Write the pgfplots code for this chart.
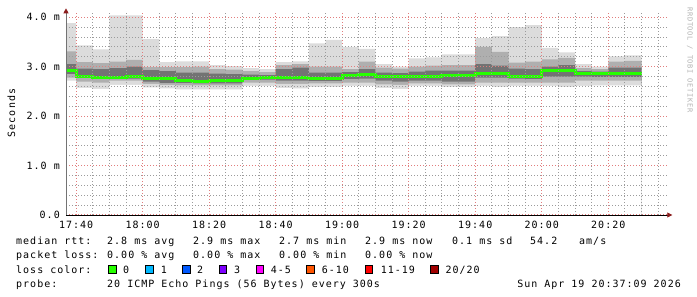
\documentclass[border=0pt]{standalone}
\usepackage{fontspec}
\newfontfamily\rrd{DejaVu Sans Mono}[LetterSpace=10]
\usepackage{pgfplots}
\usepackage{pgfplotstable}
\pgfplotsset{compat=1.18}
\usetikzlibrary{arrows.meta}
\newcommand\rrdfont{\rrd\fontsize{10bp}{12bp}\selectfont}
\newcommand\rrdtiny{\rrd\fontsize{7bp}{8bp}\selectfont}
\definecolor{smokeA}{RGB}{220,220,220}
\definecolor{smokeB}{RGB}{175,175,175}
\definecolor{smokeC}{RGB}{115,115,115}
\definecolor{medgreen}{RGB}{38,255,0}
\definecolor{majgrid}{RGB}{225,125,125}
\definecolor{mingrid}{RGB}{155,155,155}
\definecolor{arrowred}{RGB}{140,30,30}
\definecolor{lc0}{HTML}{26FF00}
\definecolor{lc1}{HTML}{00B8FF}
\definecolor{lc2}{HTML}{0059FF}
\definecolor{lc3}{HTML}{7E00FF}
\definecolor{lc4}{HTML}{FF00FF}
\definecolor{lc5}{HTML}{FF5500}
\definecolor{lc6}{HTML}{FF0000}
\definecolor{lc7}{HTML}{A10000}

\pgfplotstableread{
x     max  p90  p75  med  p25  p10  min
36.95 3.88 3.31 3.05 2.92 2.85 2.78 2.72
40    3.43 3.09 2.96 2.81 2.77 2.70 2.57
45    3.35 3.07 2.95 2.79 2.75 2.68 2.55
50    4.04 3.10 2.97 2.79 2.76 2.72 2.63
55    4.04 3.14 3.00 2.80 2.76 2.72 2.63
60    3.56 2.99 2.93 2.77 2.70 2.65 2.58
65    3.09 2.99 2.91 2.77 2.67 2.63 2.56
70    3.11 2.99 2.88 2.72 2.67 2.62 2.54
75    3.11 3.00 2.88 2.71 2.66 2.62 2.54
80    3.03 2.95 2.86 2.72 2.66 2.62 2.54
85    3.01 2.94 2.85 2.72 2.66 2.62 2.54
90    2.97 2.91 2.84 2.77 2.73 2.68 2.61
95    2.95 2.89 2.83 2.78 2.74 2.68 2.61
100   3.09 3.03 2.95 2.79 2.72 2.65 2.57
105   3.11 3.05 2.98 2.79 2.72 2.65 2.56
110   3.47 3.00 2.88 2.77 2.71 2.66 2.59
115   3.54 3.00 2.88 2.77 2.71 2.66 2.59
120   3.40 2.95 2.89 2.83 2.75 2.68 2.61
125   3.36 3.10 2.95 2.84 2.76 2.68 2.61
130   3.05 2.98 2.88 2.81 2.72 2.64 2.57
135   3.00 2.96 2.87 2.81 2.70 2.63 2.55
140   3.17 3.00 2.90 2.80 2.72 2.66 2.61
145   3.19 3.02 2.92 2.80 2.72 2.66 2.61
150   3.25 3.03 2.92 2.83 2.70 2.64 2.59
155   3.25 3.03 2.92 2.82 2.70 2.64 2.59
160   3.58 3.40 3.05 2.87 2.78 2.68 2.61
165   3.62 3.30 3.02 2.87 2.78 2.68 2.59
170   3.80 3.08 2.96 2.81 2.76 2.68 2.61
175   3.84 3.10 2.95 2.80 2.75 2.68 2.61
180   3.38 3.15 3.00 2.92 2.80 2.68 2.61
185   3.29 3.18 3.03 2.93 2.80 2.68 2.59
190   3.05 2.97 2.91 2.87 2.80 2.72 2.61
195   3.00 2.95 2.90 2.86 2.79 2.72 2.62
200   3.21 3.10 2.98 2.86 2.79 2.72 2.62
205   3.23 3.12 2.98 2.86 2.79 2.72 2.62
210   3.23 3.12 2.98 2.86 2.79 2.72 2.62
}\smoke

\begin{document}
\begin{tikzpicture}
\useasboundingbox (0bp,0bp) rectangle (697bp,297bp);
\begin{axis}[
  at={(66bp,82bp)}, anchor=south west,
  scale only axis, width=602.3bp, height=201.7bp,
  xmin=36.95, xmax=218.05, ymin=0, ymax=4.08,
  axis lines=left,
  x axis line style={draw=black, line width=0.8bp, -{Triangle[length=5bp,width=5bp,color=arrowred]}, shorten >=-4bp},
  y axis line style={draw=black!55, line width=0.8bp, -{Triangle[length=5bp,width=5bp,color=arrowred]}, shorten >=-5bp},
  xtick={40,60,80,100,120,140,160,180,200},
  xticklabels={17:40,18:00,18:20,18:40,19:00,19:20,19:40,20:00,20:20},
  minor xtick={45,50,55,65,70,75,85,90,95,105,110,115,125,130,135,145,150,155,165,170,175,185,190,195,205,210,215},
  ytick={0,1,2,3,4},
  yticklabels={0.0,1.0 m,2.0 m,3.0 m,4.0 m},
  minor ytick={0.2,0.4,0.6,0.8,1.2,1.4,1.6,1.8,2.2,2.4,2.6,2.8,3.2,3.4,3.6,3.8},
  grid=both,
  major grid style={draw=majgrid, line width=1bp, dash pattern=on 1bp off 2bp},
  minor grid style={draw=mingrid, line width=1bp, dash pattern=on 1bp off 2bp},
  major tick length=0pt, minor tick length=0pt,
  axis on top,
  ticklabel style={font=\rrdfont, text=black},
  xticklabel style={inner sep=0pt, anchor=north, yshift=-5.5bp},
  yticklabel style={inner sep=0pt, anchor=east, xshift=-6bp},
]
\addplot[fill=smokeA, draw=none, const plot] table[x=x,y=max]{\smoke} \closedcycle;
\addplot[fill=smokeB, draw=none, const plot] table[x=x,y=p90]{\smoke} \closedcycle;
\addplot[fill=smokeC, draw=none, const plot] table[x=x,y=p75]{\smoke} \closedcycle;
\addplot[fill=smokeB, draw=none, const plot] table[x=x,y=p25]{\smoke} \closedcycle;
\addplot[fill=smokeA, draw=none, const plot] table[x=x,y=p10]{\smoke} \closedcycle;
\addplot[fill=white, draw=none, const plot] table[x=x,y=min]{\smoke} \closedcycle;
\addplot[medgreen, line width=3bp, const plot] table[x=x,y=med]{\smoke};
\end{axis}
\node[rotate=90, font=\rrdfont] at (11.5bp,184bp) {Seconds};
\node[rotate=-90, font=\rrdtiny, text=black!30] at (690bp,237bp) {RRDTOOL / TOBI OETIKER};
\begin{scope}[every node/.style={font=\rrdfont, anchor=base west, inner sep=0pt}]
\node at (16bp,52bp) {median rtt:};
\node at (107bp,52bp) {2.8 ms avg};
\node at (193bp,52bp) {2.9 ms max};
\node at (279bp,52bp) {2.7 ms min};
\node at (365bp,52bp) {2.9 ms now};
\node at (452bp,52bp) {0.1 ms sd};
\node at (530bp,52bp) {54.2};
\node at (579bp,52bp) {am/s};
\node at (16bp,38.5bp) {packet loss:};
\node at (107bp,38.5bp) {0.00 \% avg};
\node at (193bp,38.5bp) {0.00 \% max};
\node at (279bp,38.5bp) {0.00 \% min};
\node at (365bp,38.5bp) {0.00 \% now};
\node at (16bp,24bp) {loss color:};
\node at (123bp,24bp) {0};
\node at (160.7bp,24bp) {1};
\node at (197bp,24bp) {2};
\node at (234bp,24bp) {3};
\node at (270.7bp,24bp) {4-5};
\node at (321.7bp,24bp) {6-10};
\node at (380.7bp,24bp) {11-19};
\node at (445.3bp,24bp) {20/20};
\node at (16bp,10bp) {probe:};
\node at (107bp,10bp) {20 ICMP Echo Pings (56 Bytes) every 300s};
\node[anchor=base east] at (681bp,10bp) {Sun Apr 19 20:37:09 2026};
\end{scope}
\foreach \bx/\c in {108.7/lc0,145.7/lc1,182.7/lc2,219.3/lc3,256/lc4,306.7/lc5,365.3/lc6,430.7/lc7}{
  \filldraw[fill=\c, draw=black, line width=0.8bp] (\bx bp,23.2bp) rectangle ++(7.5bp,8.8bp);
}
\end{tikzpicture}
\end{document}
